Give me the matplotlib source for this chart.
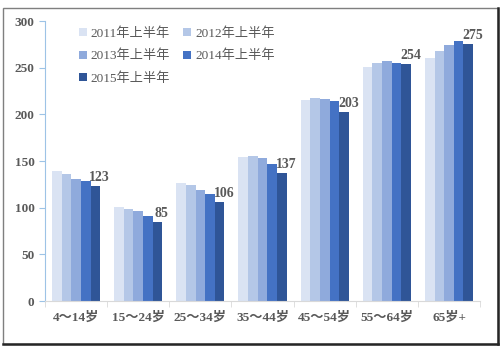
import numpy as np
import matplotlib.pyplot as plt
from matplotlib.patches import Rectangle

plt.rcParams['font.family'] = ['Liberation Serif', 'Noto Sans CJK SC', 'DejaVu Sans']

categories = ['4～14岁', '15～24岁', '25～34岁', '35～44岁', '45～54岁', '55～64岁', '65岁+']
years = ['2011年上半年', '2012年上半年', '2013年上半年', '2014年上半年', '2015年上半年']
v2011 = [139, 101, 126, 154, 215, 251, 260]
v2012 = [136, 99, 124, 155, 218, 255, 268]
v2013 = [131, 96, 119, 153, 216, 257, 274]
v2014 = [129, 91, 115, 147, 214, 255, 279]
v2015 = [123, 85, 106, 137, 203, 254, 275]

series = [v2011, v2012, v2013, v2014, v2015]
colors = ['#DAE3F3', '#B4C7E7', '#8FAADC', '#4472C4', '#2F5597']
txt = '#595959'

fig = plt.figure(figsize=(5.03, 3.5), dpi=100)
ax = fig.add_axes([0.0895, 0.14, 0.865, 0.80])

x = np.arange(len(categories))
w = 0.155
bars = []
for i, (vals, c) in enumerate(zip(series, colors)):
    b = ax.bar(x + (i - 2) * w, vals, w, color=c, label=years[i], linewidth=0)
    bars.append(b)

# value labels for the latest year
for xi, v in zip(x, v2015):
    ax.text(xi + 2 * w + 0.07, v + 2, str(v), ha='center', va='bottom',
            fontsize=10, fontweight='bold', color=txt)

ax.set_xlim(-0.5, len(categories) - 0.5)
ax.set_ylim(0, 300)
ax.set_yticks(range(0, 301, 50))
ax.set_xticks(x)
ax.set_xticklabels(categories, fontsize=9.5, fontweight='bold', color=txt)
ax.set_xticks(np.arange(-0.5, len(categories)), minor=True)
for lbl in ax.get_yticklabels():
    lbl.set_fontweight('bold')
ax.tick_params(axis='y', labelsize=9.5, labelcolor=txt, color='#9DC3E6', length=4)
ax.tick_params(axis='x', which='major', length=0, pad=8)
ax.tick_params(axis='x', which='minor', length=4, color='#D9D9D9')

for s in ['top', 'right']:
    ax.spines[s].set_visible(False)
ax.spines['left'].set_color('#9DC3E6')
ax.spines['bottom'].set_color('#D9D9D9')

# legend laid out row by row
order = [0, 2, 4, 1, 3]
handles = [bars[i] for i in order]
labels = [years[i] for i in order]
ax.legend(handles, labels, ncol=2, loc='upper left', bbox_to_anchor=(0.05, 1.02),
          frameon=False, fontsize=9.5, labelcolor=txt, handlelength=0.6,
          handleheight=0.6, handletextpad=0.3, columnspacing=1.0,
          labelspacing=0.75)

# outer frame with shadowed right/bottom edges
fig.patches.append(Rectangle((0.006, 0.017), 0.984, 0.96, transform=fig.transFigure,
                             fill=False, edgecolor='#7F7F7F', linewidth=1.0))
fig.add_artist(plt.Line2D([0.99, 0.99], [0.017, 0.977], transform=fig.transFigure,
                          color='#262626', linewidth=1.8))
fig.add_artist(plt.Line2D([0.006, 0.99], [0.017, 0.017], transform=fig.transFigure,
                          color='#262626', linewidth=1.8))

fig.savefig('out.png', dpi=100)
